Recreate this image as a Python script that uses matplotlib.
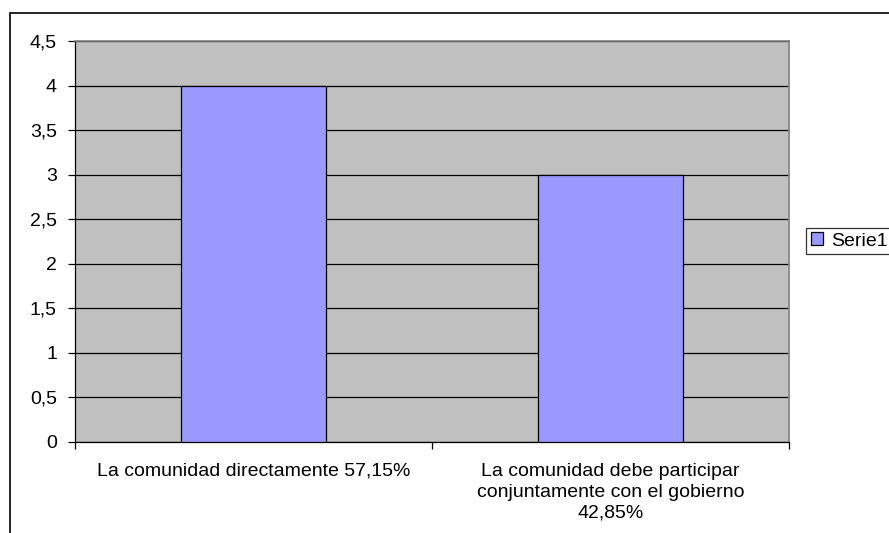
import matplotlib
matplotlib.use('Agg')
import matplotlib.pyplot as plt
from matplotlib.patches import Rectangle
from matplotlib.ticker import FixedLocator, FuncFormatter

categories = ['La comunidad directamente 57,15%',
              'La comunidad debe participar\nconjuntamente con el gobierno\n42,85%']
values = [4, 3]
series_name = 'Serie1'
yticks = [0, 0.5, 1, 1.5, 2, 2.5, 3, 3.5, 4, 4.5]

plt.rcParams['font.family'] = ['Liberation Sans', 'DejaVu Sans']
fs = 14

fig = plt.figure(figsize=(8.89, 5.33), dpi=100)
ax = fig.add_axes([75/889, 1-442/533, (789-75)/889, (442-41)/533])
ax.set_facecolor('#C0C0C0')

x = list(range(len(categories)))
ax.bar(x, values, width=0.405, color='#9999FF', edgecolor='black',
       linewidth=0.9, label=series_name, zorder=3)

ax.set_xlim(-0.5, len(categories) - 0.5)
ax.set_ylim(0, 4.5)
ax.set_yticks(yticks)
ax.yaxis.set_major_formatter(FuncFormatter(lambda v, p: ('%g' % v).replace('.', ',')))
ax.grid(axis='y', color='black', linewidth=0.9, zorder=1)
ax.set_axisbelow(True)

ax.set_xticks(x)
ax.set_xticklabels(categories, fontsize=fs, linespacing=1.3)
ax.xaxis.set_minor_locator(FixedLocator([-0.5, 0.5, 1.5]))
ax.tick_params(axis='x', which='major', length=0, pad=15)
ax.tick_params(axis='x', which='minor', length=5, width=0.9, direction='out')
ax.tick_params(axis='y', length=5, width=0.9, direction='out', pad=8, labelsize=fs)

for s in ['left', 'bottom']:
    ax.spines[s].set_color('black')
    ax.spines[s].set_linewidth(0.9)
for s in ['top', 'right']:
    ax.spines[s].set_color('#808080')
    ax.spines[s].set_linewidth(1.2)

leg = fig.legend(loc='center left', bbox_to_anchor=(806/889, 1-241/533),
                 fontsize=fs, frameon=True, fancybox=False, edgecolor='black',
                 handlelength=0.6, handleheight=0.6, handletextpad=0.45,
                 borderpad=0.25, borderaxespad=0)
leg.get_frame().set_linewidth(0.9)

fig.patches.append(Rectangle((10/889, -0.1), 1.2, 0.1 + 1 - 13/533,
                             transform=fig.transFigure, fill=False,
                             edgecolor='black', linewidth=1.2))

fig.savefig('out.png', dpi=100)
